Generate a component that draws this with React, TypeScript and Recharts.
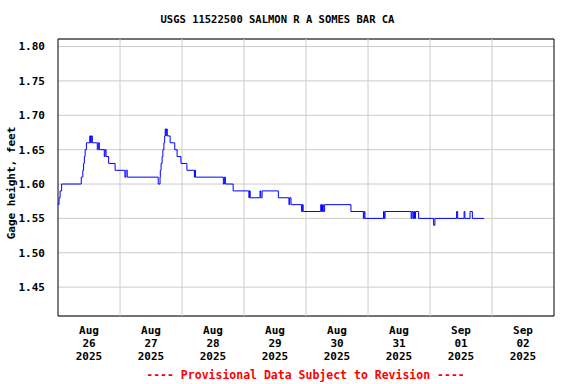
import { LineChart, Line, XAxis, YAxis, CartesianGrid, ReferenceLine, ReferenceArea } from 'recharts';

// hours since Aug 26 00:00, where the gage reading changes
const changeHours = [
  0, 0.4, 0.8, 1.4, 9.0, 9.6, 9.9, 10.2, 10.5, 11.0, 12.3, 12.6, 12.9, 13.3,
  15.2, 15.6, 16.0, 17.9, 18.2, 18.6, 19.6, 22.1, 25.9, 26.3, 26.8,
  38.8, 39.5, 39.6, 39.9, 40.3, 40.6, 41.0, 41.3, 41.5, 41.8, 41.9, 42.3,
  43.4, 45.2, 46.1, 47.6, 49.9, 52.8, 53.0, 53.2,
  64.0, 64.4, 64.8, 67.8, 73.9, 74.1, 74.4, 78.2, 78.5, 79.0, 85.3,
  89.4, 89.7, 90.2, 94.3, 94.6, 94.9,
  101.7, 102.0, 102.4, 102.7, 103.2, 113.4, 118.2, 118.5, 118.8,
  126.0, 126.3, 126.6, 136.7, 137.0, 137.4, 137.7, 138.0, 138.4, 139.6,
  145.4, 145.9, 154.3, 154.7, 157.2, 157.5, 159.5, 160.4, 161.0, 164.9,
];
const gageFeet = [
  1.57, 1.58, 1.59, 1.60, 1.61, 1.62, 1.63, 1.64, 1.65, 1.66, 1.67, 1.66, 1.67, 1.66,
  1.65, 1.66, 1.65, 1.64, 1.65, 1.64, 1.63, 1.62, 1.61, 1.62, 1.61,
  1.60, 1.61, 1.62, 1.63, 1.64, 1.65, 1.66, 1.67, 1.68, 1.67, 1.68, 1.67,
  1.66, 1.65, 1.64, 1.63, 1.62, 1.61, 1.62, 1.61,
  1.60, 1.61, 1.60, 1.59, 1.58, 1.59, 1.58, 1.59, 1.58, 1.59, 1.58,
  1.57, 1.58, 1.57, 1.56, 1.57, 1.56,
  1.57, 1.56, 1.57, 1.56, 1.57, 1.56, 1.55, 1.56, 1.55,
  1.56, 1.55, 1.56, 1.55, 1.56, 1.55, 1.56, 1.55, 1.56, 1.55,
  1.54, 1.55, 1.56, 1.55, 1.56, 1.55, 1.56, 1.55, 1.55, 1.55,
];

const dayMonths = ['Aug', 'Aug', 'Aug', 'Aug', 'Aug', 'Aug', 'Sep', 'Sep'];
const dayNumbers = ['26', '27', '28', '29', '30', '31', '01', '02'];
const dayYears = ['2025', '2025', '2025', '2025', '2025', '2025', '2025', '2025'];
const yTicks = [1.45, 1.5, 1.55, 1.6, 1.65, 1.7, 1.75, 1.8];

const data = changeHours.map((t, i) => ({ t, v: gageFeet[i] }));
const labelHours = dayNumbers.map((_, i) => 12 + i * 24);
const midnightHours = [24, 48, 72, 96, 120, 144, 168];

const font = '"DejaVu Sans Mono", monospace';
const Y_MIN = 1.408;
const Y_MAX = 1.811;

const DayTick = ({ x, y, index }: any) => (
  <text x={x} y={y} textAnchor="middle" fontFamily={font} fontWeight="bold" fontSize={11} fill="#000">
    <tspan x={x} dy={18}>{dayMonths[index]}</tspan>
    <tspan x={x} dy={13}>{dayNumbers[index]}</tspan>
    <tspan x={x} dy={13}>{dayYears[index]}</tspan>
  </text>
);

export default function App() {
  return (
    <div style={{ position: 'fixed', left: 0, top: 0, width: 576, height: 384, background: '#fff' }}>
      <LineChart width={576} height={384} data={data} margin={{ top: 39, right: 22, left: 0, bottom: 0 }}>
        <CartesianGrid vertical={false} stroke="#cccccc" />
        {midnightHours.map((h) => (
          <ReferenceLine key={h} x={h} stroke="#cccccc" />
        ))}
        <XAxis
          type="number"
          dataKey="t"
          domain={[0, 192]}
          ticks={labelHours}
          interval={0}
          tickLine={false}
          tickSize={0}
          tickMargin={0}
          axisLine={false}
          tick={<DayTick />}
          height={68}
        />
        <YAxis
          type="number"
          domain={[Y_MIN, Y_MAX]}
          ticks={yTicks}
          interval={0}
          width={58}
          tickLine={false}
          tickSize={0}
          tickMargin={13}
          axisLine={false}
          tickFormatter={(v: number) => v.toFixed(2)}
          tick={{ fontFamily: font, fontWeight: 'bold', fontSize: 11, fill: '#000' }}
        />
        <Line
          type="stepAfter"
          dataKey="v"
          stroke="#0000ff"
          strokeWidth={1}
          dot={false}
          isAnimationActive={false}
        />
        <ReferenceArea x1={0} x2={192} y1={Y_MIN} y2={Y_MAX} fill="none" stroke="#000" strokeWidth={1} />
      </LineChart>
      <svg width={576} height={384} style={{ position: 'absolute', left: 0, top: 0, pointerEvents: 'none' }}>
        <text x={277.5} y={23} textAnchor="middle" fontFamily={font} fontWeight="bold" fontSize={10.5} fill="#000">
          USGS 11522500 SALMON R A SOMES BAR CA
        </text>
        <text
          x={15}
          y={183}
          transform="rotate(-90 15 183)"
          textAnchor="middle"
          fontFamily={font}
          fontWeight="bold"
          fontSize={11}
          fill="#000"
        >
          Gage height, feet
        </text>
        <text x={305.5} y={379} textAnchor="middle" fontFamily={font} fontWeight="bold" fontSize={11.5} fill="#ff0000">
          ---- Provisional Data Subject to Revision ----
        </text>
      </svg>
    </div>
  );
}
